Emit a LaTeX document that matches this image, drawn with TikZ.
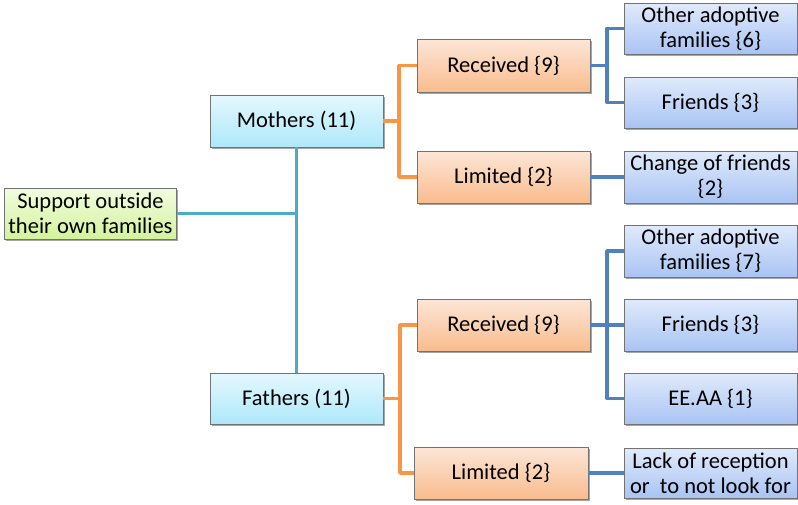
\documentclass[tikz,border=0pt]{standalone}
\usepackage{fontspec}
\setmainfont{Carlito}
\usetikzlibrary{shadows}
\definecolor{teal1}{HTML}{4BACC6}
\definecolor{orng}{HTML}{F79646}
\definecolor{blu}{HTML}{4F81BD}
\definecolor{gtop}{HTML}{F2FCE0}
\definecolor{gbot}{HTML}{D3F39C}
\definecolor{ctop}{HTML}{E4F8FE}
\definecolor{cbot}{HTML}{AEE8FA}
\definecolor{otop}{HTML}{FDE6D6}
\definecolor{obot}{HTML}{F9BC8E}
\definecolor{btop}{HTML}{E0EAFC}
\definecolor{bbot}{HTML}{A9C4F3}
\begin{document}
\begin{tikzpicture}[x=1pt,y=-1pt,
  box/.style={draw=black!55, line width=0.9pt, minimum width=173pt, minimum height=52pt,
    inner sep=1pt, align=center, font=\fontsize{22.5}{25}\selectfont,
    drop shadow={shadow xshift=1.5pt, shadow yshift=-2pt, opacity=0.35, fill=black}},
  gbox/.style={box, top color=gtop, bottom color=gbot},
  cbox/.style={box, top color=ctop, bottom color=cbot},
  obox/.style={box, top color=otop, bottom color=obot},
  bbox/.style={box, top color=btop, bottom color=bbot},
  tl/.style={teal1, line width=3.5pt},
  ol/.style={orng, line width=3.5pt},
  bl/.style={blu, line width=3.5pt}]
\useasboundingbox (0,0) rectangle (798,504);
\node[gbox, minimum width=172pt, minimum height=51pt] (sup) at (90.5,213.5) {Support outside\\their own families};
\node[cbox] (mot) at (296.5,121) {Mothers (11)};
\node[cbox, minimum height=51pt] (fat) at (296.5,398.5) {Fathers (11)};
\node[obox, minimum height=53pt] (rec1) at (503.5,65.5) {Received \{9\}};
\node[obox] (lim1) at (503.5,177) {Limited \{2\}};
\node[bbox, minimum height=51pt] (oth6) at (710.5,28.5) {Other adoptive\\families \{6\}};
\node[bbox, minimum height=51pt] (fr1) at (710.5,102.5) {Friends \{3\}};
\node[bbox] (chg) at (710.5,177) {Change of friends\\\{2\}};
\node[obox] (rec2) at (503.5,325) {Received \{9\}};
\node[obox, minimum width=174pt] (lim2) at (501,473) {Limited \{2\}};
\node[bbox] (oth7) at (710.5,251) {Other adoptive\\families \{7\}};
\node[bbox] (fr2) at (710.5,325) {Friends \{3\}};
\node[bbox, minimum height=51pt] (eeaa) at (710.5,398.5) {EE.AA \{1\}};
\node[bbox, minimum height=50pt] (lack) at (710.5,473) {Lack of reception\\or\ \ to not look for};
% teal
\draw[tl] (mot.south) -- (fat.north);
\draw[tl] (sup.east) -- (sup.east -| mot.south);
% orange
\coordinate (o1) at (399,0);
\coordinate (o2) at (400,0);
\draw[ol, line join=round] (rec1.west) -- (rec1.west -| o1) -- (lim1.west -| o1) -- (lim1.west);
\draw[ol] (mot.east) -- (mot.east -| o1);
\draw[ol, line join=round] (rec2.west) -- (rec2.west -| o2) -- (lim2.west -| o2) -- (lim2.west);
\draw[ol] (fat.east) -- (fat.east -| o2);
% blue
\coordinate (b1) at (607,0);
\draw[bl, line join=round] (oth6.west) -- (oth6.west -| b1) -- (fr1.west -| b1) -- (fr1.west);
\draw[bl] (rec1.east) -- (rec1.east -| b1);
\draw[bl] (lim1.east) -- (chg.west);
\draw[bl, line join=round] (oth7.west) -- (oth7.west -| b1) -- (eeaa.west -| b1) -- (eeaa.west);
\draw[bl] (rec2.east) -- (fr2.west);
\draw[bl] (lim2.east) -- (lack.west);
\end{tikzpicture}
\end{document}
